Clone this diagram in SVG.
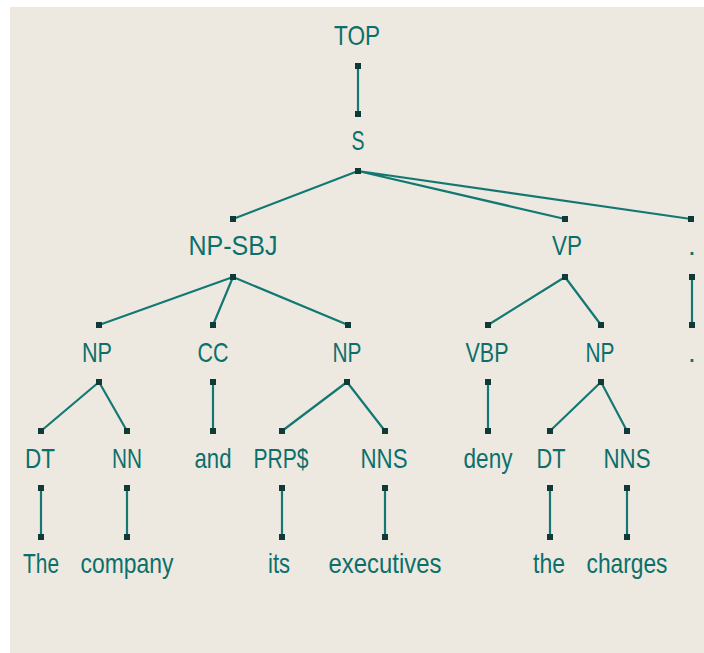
<svg xmlns="http://www.w3.org/2000/svg" width="704" height="653" viewBox="0 0 704 653">
<style>
.t{font-family:"Liberation Sans",Arial,sans-serif;font-size:28px;fill:#0b6f6c;text-anchor:middle}
.e{stroke:#137873;stroke-width:2.2;fill:none}
.d{fill:#0e3a38}
</style>
<rect x="0" y="0" width="704" height="653" fill="#ffffff"/>
<rect x="10" y="7" width="694" height="646" fill="#ede9e0"/>
<g id="connectors">
<path class="e" d="M358 66V114 M358 171L233 219 M358 171L565 219 M358 171L691 219 M233 277L99 325 M233 277L213 325 M233 277L348 325 M565 277L488 325 M565 277L601 325 M692 277V325 M99 382L41 431 M99 382L127 431 M213 382V431 M347 382L282 431 M347 382L385 431 M488 382V431 M601 382L550 431 M601 382L627 431 M41 488V537 M127 488V537 M282 488V537 M385 488V537 M550 488V537 M627 488V537"/>
<g class="d">
<rect x="355" y="63" width="6" height="6"/><rect x="355" y="111" width="6" height="6"/>
<rect x="355" y="168" width="6" height="6"/>
<rect x="230" y="216" width="6" height="6"/><rect x="562" y="216" width="6" height="6"/><rect x="688" y="216" width="6" height="6"/>
<rect x="230" y="274" width="6" height="6"/><rect x="562" y="274" width="6" height="6"/><rect x="689" y="274" width="6" height="6"/>
<rect x="96" y="322" width="6" height="6"/><rect x="210" y="322" width="6" height="6"/><rect x="345" y="322" width="6" height="6"/><rect x="485" y="322" width="6" height="6"/><rect x="598" y="322" width="6" height="6"/><rect x="689" y="322" width="6" height="6"/>
<rect x="96" y="379" width="6" height="6"/><rect x="210" y="379" width="6" height="6"/><rect x="344" y="379" width="6" height="6"/><rect x="485" y="379" width="6" height="6"/><rect x="598" y="379" width="6" height="6"/>
<rect x="38" y="428" width="6" height="6"/><rect x="124" y="428" width="6" height="6"/><rect x="210" y="428" width="6" height="6"/><rect x="279" y="428" width="6" height="6"/><rect x="382" y="428" width="6" height="6"/><rect x="485" y="428" width="6" height="6"/><rect x="547" y="428" width="6" height="6"/><rect x="624" y="428" width="6" height="6"/>
<rect x="38" y="485" width="6" height="6"/><rect x="124" y="485" width="6" height="6"/><rect x="279" y="485" width="6" height="6"/><rect x="382" y="485" width="6" height="6"/><rect x="547" y="485" width="6" height="6"/><rect x="624" y="485" width="6" height="6"/>
<rect x="38" y="534" width="6" height="6"/><rect x="124" y="534" width="6" height="6"/><rect x="279" y="534" width="6" height="6"/><rect x="382" y="534" width="6" height="6"/><rect x="547" y="534" width="6" height="6"/><rect x="624" y="534" width="6" height="6"/>
</g>
</g>
<g id="n-top"><text class="t" x="357" y="45" textLength="46" lengthAdjust="spacingAndGlyphs">TOP</text></g>
<g id="n-s"><text class="t" x="358" y="150" textLength="13" lengthAdjust="spacingAndGlyphs">S</text></g>
<g id="n-npsbj"><text class="t" x="233" y="255" textLength="89" lengthAdjust="spacingAndGlyphs">NP-SBJ</text></g>
<g id="n-vp"><text class="t" x="567" y="255" textLength="30" lengthAdjust="spacingAndGlyphs">VP</text></g>
<g id="n-punct"><text class="t" x="692" y="255">.</text></g>
<g id="n-np1"><text class="t" x="97" y="362" textLength="30" lengthAdjust="spacingAndGlyphs">NP</text></g>
<g id="n-cc"><text class="t" x="213" y="362" textLength="31" lengthAdjust="spacingAndGlyphs">CC</text></g>
<g id="n-np2"><text class="t" x="347" y="362" textLength="29" lengthAdjust="spacingAndGlyphs">NP</text></g>
<g id="n-vbp"><text class="t" x="487" y="362" textLength="43" lengthAdjust="spacingAndGlyphs">VBP</text></g>
<g id="n-np3"><text class="t" x="600" y="362" textLength="29" lengthAdjust="spacingAndGlyphs">NP</text></g>
<g id="n-punct2"><text class="t" x="692" y="362">.</text></g>
<g id="n-dt1"><text class="t" x="40" y="468" textLength="30" lengthAdjust="spacingAndGlyphs">DT</text></g>
<g id="n-nn"><text class="t" x="127" y="468" textLength="30" lengthAdjust="spacingAndGlyphs">NN</text></g>
<g id="n-and"><text class="t" x="213" y="468" textLength="37" lengthAdjust="spacingAndGlyphs">and</text></g>
<g id="n-prp"><text class="t" x="281" y="468" textLength="55" lengthAdjust="spacingAndGlyphs">PRP$</text></g>
<g id="n-nns1"><text class="t" x="384" y="468" textLength="47" lengthAdjust="spacingAndGlyphs">NNS</text></g>
<g id="n-deny"><text class="t" x="488" y="468" textLength="49" lengthAdjust="spacingAndGlyphs">deny</text></g>
<g id="n-dt2"><text class="t" x="551" y="468" textLength="29" lengthAdjust="spacingAndGlyphs">DT</text></g>
<g id="n-nns2"><text class="t" x="627" y="468" textLength="47" lengthAdjust="spacingAndGlyphs">NNS</text></g>
<g id="w-the1"><text class="t" x="41" y="573" textLength="36" lengthAdjust="spacingAndGlyphs">The</text></g>
<g id="w-company"><text class="t" x="127" y="573" textLength="93" lengthAdjust="spacingAndGlyphs">company</text></g>
<g id="w-its"><text class="t" x="279" y="573" textLength="22" lengthAdjust="spacingAndGlyphs">its</text></g>
<g id="w-executives"><text class="t" x="385" y="573" textLength="113" lengthAdjust="spacingAndGlyphs">executives</text></g>
<g id="w-the2"><text class="t" x="549" y="573" textLength="32" lengthAdjust="spacingAndGlyphs">the</text></g>
<g id="w-charges"><text class="t" x="627" y="573" textLength="81" lengthAdjust="spacingAndGlyphs">charges</text></g>
</svg>
